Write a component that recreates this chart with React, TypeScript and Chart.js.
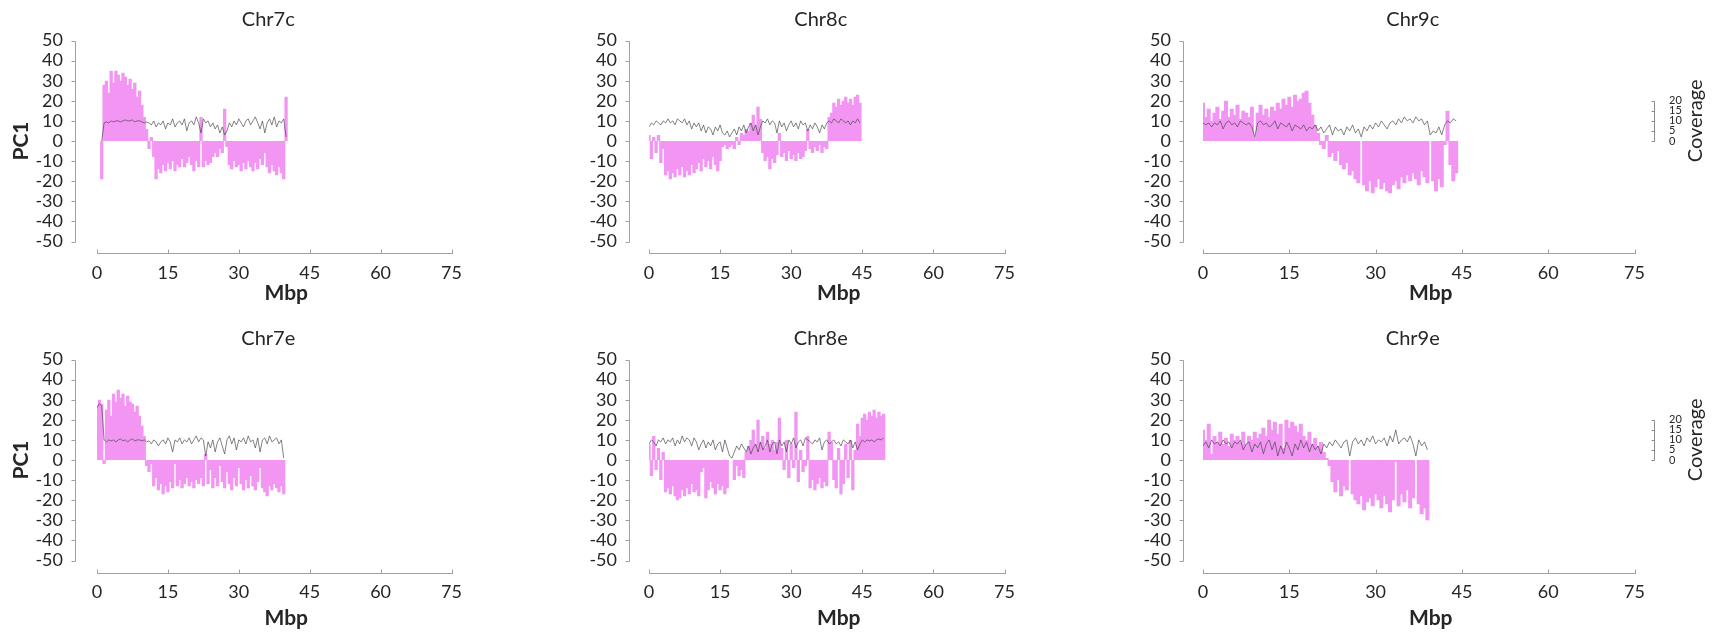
import React, { useEffect, useRef } from 'react';
import { Chart, registerables } from 'chart.js';

Chart.register(...registerables);

// ---------- data (bins of 0.5 Mbp starting at 0) ----------
const BIN_MBP = 0.5;
const X_TICK_STEP = 15;
const COVERAGE_TICKS = [0, 5, 10, 15, 20];

const chr7cPC1 = [0, 0, -19, 28, 30, 24, 35, 29, 35, 33,
  30, 34, 32, 28, 31, 26, 29, 22, 25, 18,
  12, 6, -4, 2, -8, -19, -14, -16, -12, -15,
  -11, -14, -10, -15, -12, -13, -9, -13, -11, -8,
  -12, -15, -10, -13, 12, -13, -10, -12, -11, -8,
  -6, -8, -4, -6, 16, -3, -12, -14, -10, -13,
  -12, -15, -11, -14, -10, -13, -15, -11, -14, -9,
  -12, -6, -13, -16, -12, -15, -17, -13, -16, -19,
  22];
const chr7cCoverage = [null, null, 0, 9, 9.5, 9, 10, 9.5, 10, 10,
  9.5, 10, 10.5, 10, 10, 10.5, 9.5, 10, 10, 9.5,
  9, 9.5, 9, 8, 10, 7, 9, 8, 10, 6,
  9, 8, 11, 7, 9, 10, 8, 11, 5, 9,
  10, 8, 12, 9, 4, 11, 9, 10, 7, 9,
  6, 8, 4, 7, 3, 5, 9, 7, 10, 8,
  11, 9, 7, 10, 11, 8, 10, 12, 9, 6,
  10, 4, 9, 11, 8, 12, 7, 10, 9, 11,
  2];

const chr8cPC1 = [3, -9, 2, -6, 3, -11, -4, -17, -15, -19,
  -16, -18, -14, -17, -13, -18, -15, -17, -12, -16,
  -14, -11, -15, -9, -13, -10, -14, -8, -12, -15,
  -10, -3, -2, -4, -3, -2, -4, 2, -2, 4,
  3, 6, 5, 9, 13, 8, 17, 11, -6, -10,
  -8, -14, -9, -11, -7, 4, -8, -6, -10, -5,
  -9, -7, -10, -6, -9, -8, -5, 6, -4, -6,
  -3, -5, -2, -6, -3, -4, 12, 14, 19, 17,
  21, 18, 20, 22, 19, 21, 18, 22, 23, 19];
const chr8cCoverage = [7, 9, 8, 10, 9, 8, 10, 9, 11, 9,
  10, 8, 11, 10, 9, 11, 8, 10, 6, 9,
  7, 9, 5, 8, 4, 7, 6, 3, 7, 5,
  8, 4, 3, 5, 2, 4, 6, 3, 7, 5,
  8, 4, 7, 9, 5, 8, 3, 7, 10, 9,
  11, 8, 10, 9, 4, 10, 7, 9, 5, 8,
  10, 7, 9, 6, 10, 8, 9, 5, 8, 6,
  9, 7, 4, 8, 6, 9, 10, 9, 11, 10,
  9, 11, 10, 9, 10, 8, 10, 9, 11, 9];

const chr9cPC1 = [19, 12, 16, 10, 14, 17, 11, 15, 20, 12,
  16, 13, 18, 11, 15, 14, 12, 17, 2, 14,
  18, 13, 16, 12, 17, 15, 19, 16, 21, 18,
  22, 17, 23, 20, 21, 24, 25, 19, 13, 8,
  4, -2, -4, 3, -8, -6, -10, -5, -12, -14,
  -11, -17, -15, -19, -21, 0, -22, -25, -20, -26,
  -23, -19, -24, -21, -25, -26, -22, -20, -24, -18,
  -21, -17, -20, -16, -19, -22, -15, -18, -21, 0,
  -20, -25, -19, -23, -2, 15, -12, -20, -16];
const chr9cCoverage = [9, 8, 9, 7, 9, 8, 10, 6, 9, 10,
  8, 9, 7, 10, 9, 8, 9, 7, 2, 9,
  10, 8, 9, 7, 8, 10, 6, 9, 8, 7,
  9, 5, 8, 7, 6, 8, 5, 7, 6, 8,
  5, 7, 4, 6, 8, 3, 7, 5, 6, 3,
  7, 5, 8, 4, 6, 2, 7, 5, 8, 6,
  9, 7, 10, 8, 6, 9, 10, 8, 11, 9,
  12, 10, 11, 9, 12, 10, 11, 8, 10, 3,
  5, 4, 7, 3, 8, 10, 9, 11, 10];

const chr7ePC1 = [27, 30, 28, -2, 25, 30, 22, 33, 29, 35,
  31, 33, 27, 32, 29, 28, 24, 27, 22, 17,
  12, -3, -6, -2, -13, -9, -15, -12, -17, -13,
  -16, -11, -14, -2, -13, -10, -14, -12, -9, -13,
  -11, -14, -10, -12, -9, -13, 3, -12, -5, -14,
  -9, -13, -3, -11, -14, -6, -12, -15, -9, -13,
  -4, -12, -15, -10, -14, -8, -13, -15, -11, -4,
  -14, -16, -18, -13, -15, -12, -14, -16, -13, -17];
const chr7eCoverage = [26, 28, 27, 10, 9, 10, 9.5, 10, 9, 10,
  10.5, 9.5, 10, 9, 10, 10.5, 9.5, 10, 10, 9.5,
  10, 9, 9.5, 8, 10, 9, 7, 9, 10, 8,
  11, 9, 4, 10, 9, 11, 8, 10, 9, 11,
  8, 10, 12, 9, 11, 10, 2, 9, 6, 10,
  4, 9, 11, 7, 3, 10, 12, 8, 11, 5,
  10, 9, 11, 8, 12, 9, 10, 6, 11, 4,
  10, 11, 8, 12, 9, 10, 11, 8, 10, 1];

const chr8ePC1 = [8, -8, 12, -5, 6, -10, 4, -16, -14, -17,
  -13, -18, -20, -19, -15, -18, -14, -17, -12, -16,
  -15, -18, -6, -4, -19, -15, -11, -14, -17, -12,
  -15, -13, -17, -14, 0, 0, -10, -3, -8, -5,
  -9, 4, 7, 10, 15, 8, 20, 9, 12, 6,
  14, 8, 10, 5, 9, 21, 6, -5, 10, -9,
  8, -4, 24, -11, 5, -6, -3, 12, -14, -10,
  -15, -12, -9, -14, -11, -13, 14, 9, -10, -14,
  6, -17, -12, 8, -9, 10, -15, 5, 18, 12,
  21, 23, 20, 24, 22, 25, 21, 24, 22, 23];
const chr8eCoverage = [8, 10, 9, 7, 10, 9, 11, 8, 10, 9,
  11, 7, 10, 8, 12, 9, 11, 10, 7, 11,
  9, 5, 8, 10, 6, 9, 7, 10, 5, 8,
  9, 4, 10, 6, 2, 1, 4, 7, 5, 8,
  6, 4, 7, 3, 6, 8, 4, 9, 5, 7,
  10, 4, 8, 9, 3, 10, 7, 9, 4, 10,
  8, 11, 6, 9, 10, 7, 11, 10, 9, 8,
  10, 9, 11, 5, 9, 10, 8, 9, 10, 8,
  9, 7, 10, 9, 8, 10, 6, 9, 5, 8,
  10, 9, 10, 9.5, 10, 9, 10, 10.5, 10, 11];

const chr9ePC1 = [15, 10, 18, 3, 12, 9, 14, 8, 11, 7,
  13, 10, 12, 9, 14, 8, 12, 10, 14, 11,
  13, 16, 12, 20, 15, 19, 13, 18, 6, 20,
  16, 19, 17, 14, 18, 12, 10, 14, 8, 11,
  7, 9, 4, 1, -3, -11, -16, -10, -18, -13,
  -15, 0, -17, -20, -22, -18, -25, -21, -19, -23,
  -17, -20, -24, -18, -22, -26, -20, -1, -23, -17,
  -21, -15, -24, -19, 0, -22, -27, -24, -30];
const chr9eCoverage = [7, 9, 6, 10, 8, 9, 7, 10, 8, 9,
  6, 9, 8, 10, 5, 8, 9, 4, 8, 6,
  9, 3, 8, 10, 5, 9, 2, 7, 3, 9,
  6, 2, 8, 5, 10, 6, 9, 4, 8, 5,
  7, 3, 8, 6, 9, 7, 10, 8, 6, 9,
  10, 2, 9, 11, 8, 10, 7, 11, 9, 12,
  8, 10, 9, 11, 7, 12, 9, 15, 8, 10,
  11, 9, 12, 8, 2, 10, 7, 9, 5];

const PANELS = [
  { title: 'Chr7c', pc1: chr7cPC1, cov: chr7cCoverage, row: 0, col: 0 },
  { title: 'Chr8c', pc1: chr8cPC1, cov: chr8cCoverage, row: 0, col: 1 },
  { title: 'Chr9c', pc1: chr9cPC1, cov: chr9cCoverage, row: 0, col: 2 },
  { title: 'Chr7e', pc1: chr7ePC1, cov: chr7eCoverage, row: 1, col: 0 },
  { title: 'Chr8e', pc1: chr8ePC1, cov: chr8eCoverage, row: 1, col: 1 },
  { title: 'Chr9e', pc1: chr9ePC1, cov: chr9eCoverage, row: 1, col: 2 },
];

// ---------- layout & style ----------
const FONT = 'Lato, "Open Sans", sans-serif';
const TEXT_COLOR = '#262626';
const AXIS_COLOR = '#a0a0a0';
const BAR_COLOR = '#f396f3';
const COV_COLOR = 'rgba(70,70,70,0.75)';

const CHART_LEFT = 97;
const COL_LEFT = [0, 552, 1106];
const COL_W = [552, 552, 607];
const COL_RIGHT_PAD = [22, 21, 78.5];
const Y_AXIS_GAP = [22.5, 20.5, 20.5];
const ROW_TOP = [0, 318];
const ROW_H = [318, 316];
const CHART_TOP = [40.5, 41.5];
const CHART_BOTTOM = [241.5, 242.5];
const X_AXIS_GAP = [11.5, 12];
const MBP_GAP = [51.5, 57.5];

const decorPlugin = {
  id: 'decor',
  afterDraw(chart: any, _args: any, opts: any) {
    const { ctx, chartArea } = chart;
    const xs = chart.scales.x;
    const ys = chart.scales.y;
    ctx.save();
    ctx.strokeStyle = AXIS_COLOR;
    ctx.lineWidth = 1;

    // y axis line (offset left of plot)
    const ax = Math.round(chartArea.left - opts.yAxisGap) + 0.5;
    ctx.beginPath();
    ctx.moveTo(ax, Math.round(ys.getPixelForValue(ys.max)) + 0.5);
    ctx.lineTo(ax, Math.round(ys.getPixelForValue(ys.min)) + 0.5);
    ys.ticks.forEach((t: any) => {
      const p = Math.round(ys.getPixelForValue(t.value)) + 0.5;
      ctx.moveTo(ax - 4, p);
      ctx.lineTo(ax, p);
    });
    ctx.stroke();

    // x axis line (offset below plot)
    const ay = Math.round(chartArea.bottom + opts.xAxisGap) + 0.5;
    ctx.beginPath();
    ctx.moveTo(Math.round(xs.getPixelForValue(xs.min)), ay);
    ctx.lineTo(Math.round(xs.getPixelForValue(xs.max)) + 1, ay);
    xs.ticks.forEach((t: any) => {
      const p = Math.round(xs.getPixelForValue(t.value)) + 0.5;
      ctx.moveTo(p, ay);
      ctx.lineTo(p, ay - 4);
    });
    ctx.stroke();

    const cx = (chartArea.left + chartArea.right) / 2;
    ctx.fillStyle = TEXT_COLOR;
    ctx.textAlign = 'center';
    ctx.textBaseline = 'middle';

    // panel title
    ctx.font = `20px ${FONT}`;
    ctx.fillText(opts.title, cx - 6, chartArea.top - 21);

    // x-axis title
    ctx.font = `bold 21px ${FONT}`;
    ctx.fillText('Mbp', cx + 12, chartArea.bottom + opts.mbpGap);

    // y-axis title
    if (opts.showPC1) {
      ctx.save();
      ctx.translate(21, (chartArea.top + chartArea.bottom) / 2);
      ctx.rotate(-Math.PI / 2);
      ctx.fillText('PC1', 0, 0);
      ctx.restore();
    }

    // coverage axis
    if (opts.showCov) {
      const cs = chart.scales.y2;
      const cxl = Math.round(chartArea.right + 19.5) + 0.5;
      ctx.strokeStyle = '#8c8c8c';
      ctx.beginPath();
      ctx.moveTo(cxl, Math.round(cs.getPixelForValue(COVERAGE_TICKS[COVERAGE_TICKS.length - 1])) + 0.5);
      ctx.lineTo(cxl, Math.round(cs.getPixelForValue(COVERAGE_TICKS[0])) + 0.5);
      COVERAGE_TICKS.forEach((v) => {
        const p = Math.round(cs.getPixelForValue(v)) + 0.5;
        ctx.moveTo(cxl - 3, p);
        ctx.lineTo(cxl, p);
      });
      ctx.stroke();
      ctx.save();
      ctx.font = `20px ${FONT}`;
      ctx.translate(chartArea.right + 61, cs.getPixelForValue(10));
      ctx.rotate(-Math.PI / 2);
      ctx.fillText('Coverage', 0, 0);
      ctx.restore();
    }
    ctx.restore();
  },
};

function buildConfig(p: any): any {
  const { row, col } = p;
  const showCov = col === 2;
  const toPoints = (arr: (number | null)[]) => arr.map((v, i) => ({ x: i * BIN_MBP, y: v }));
  return {
    type: 'bar',
    data: {
      datasets: [
        {
          type: 'line',
          label: 'Coverage',
          data: toPoints(p.cov),
          yAxisID: 'y2',
          borderColor: COV_COLOR,
          borderWidth: 0.9,
          pointRadius: 0,
          tension: 0,
          fill: false,
          spanGaps: false,
          order: 0,
        },
        {
          type: 'bar',
          label: 'PC1',
          data: toPoints(p.pc1),
          yAxisID: 'y',
          backgroundColor: BAR_COLOR,
          borderWidth: 0,
          barPercentage: 1.4,
          categoryPercentage: 1,
          order: 1,
        },
      ],
    },
    options: {
      responsive: false,
      animation: false,
      events: [],
      layout: {
        padding: { top: CHART_TOP[row], left: 0, bottom: 0, right: showCov ? 0 : COL_RIGHT_PAD[col] },
      },
      plugins: {
        legend: { display: false },
        tooltip: { enabled: false },
        decor: {
          title: p.title,
          yAxisGap: Y_AXIS_GAP[col],
          xAxisGap: X_AXIS_GAP[row],
          mbpGap: MBP_GAP[row],
          showPC1: col === 0,
          showCov,
        },
      },
      scales: {
        x: {
          type: 'linear',
          min: 0,
          max: 75,
          offset: false,
          grid: { display: false },
          border: { display: false },
          ticks: {
            stepSize: X_TICK_STEP,
            autoSkip: false,
            maxRotation: 0,
            padding: 13,
            color: TEXT_COLOR,
            font: { family: FONT, size: 18 },
          },
          afterFit: (s: any) => { s.height = ROW_H[row] - CHART_BOTTOM[row]; },
        },
        y: {
          type: 'linear',
          position: 'left',
          min: -50,
          max: 50,
          grid: { display: false },
          border: { display: false },
          ticks: {
            stepSize: 10,
            autoSkip: false,
            padding: Y_AXIS_GAP[col] + 3.5,
            color: TEXT_COLOR,
            font: { family: FONT, size: 18, lineHeight: 1 },
          },
          afterFit: (s: any) => { s.width = CHART_LEFT; },
        },
        y2: {
          type: 'linear',
          position: 'right',
          display: showCov,
          min: -50,
          max: 50,
          grid: { display: false },
          border: { display: false },
          ticks: {
            autoSkip: false,
            padding: 26.5,
            color: TEXT_COLOR,
            font: { family: FONT, size: 11, lineHeight: 1 },
          },
          afterBuildTicks: (s: any) => { s.ticks = COVERAGE_TICKS.map((v) => ({ value: v })); },
          afterFit: (s: any) => { s.width = COL_RIGHT_PAD[2]; },
        },
      },
    },
    plugins: [decorPlugin],
  };
}

function Panel({ p }: { p: any }) {
  const ref = useRef<HTMLCanvasElement>(null);
  const w = COL_W[p.col];
  const h = ROW_H[p.row];
  useEffect(() => {
    const chart = new Chart(ref.current as HTMLCanvasElement, buildConfig(p));
    return () => chart.destroy();
  }, [p]);
  return (
    <canvas
      ref={ref}
      width={w}
      height={h}
      style={{ position: 'absolute', left: COL_LEFT[p.col], top: ROW_TOP[p.row], width: w, height: h }}
    />
  );
}

export default function App() {
  return (
    <div style={{ position: 'absolute', left: 0, top: 0, width: 1713, height: 634, background: '#fff', overflow: 'hidden' }}>
      {PANELS.map((p) => (
        <Panel key={p.title} p={p} />
      ))}
    </div>
  );
}
